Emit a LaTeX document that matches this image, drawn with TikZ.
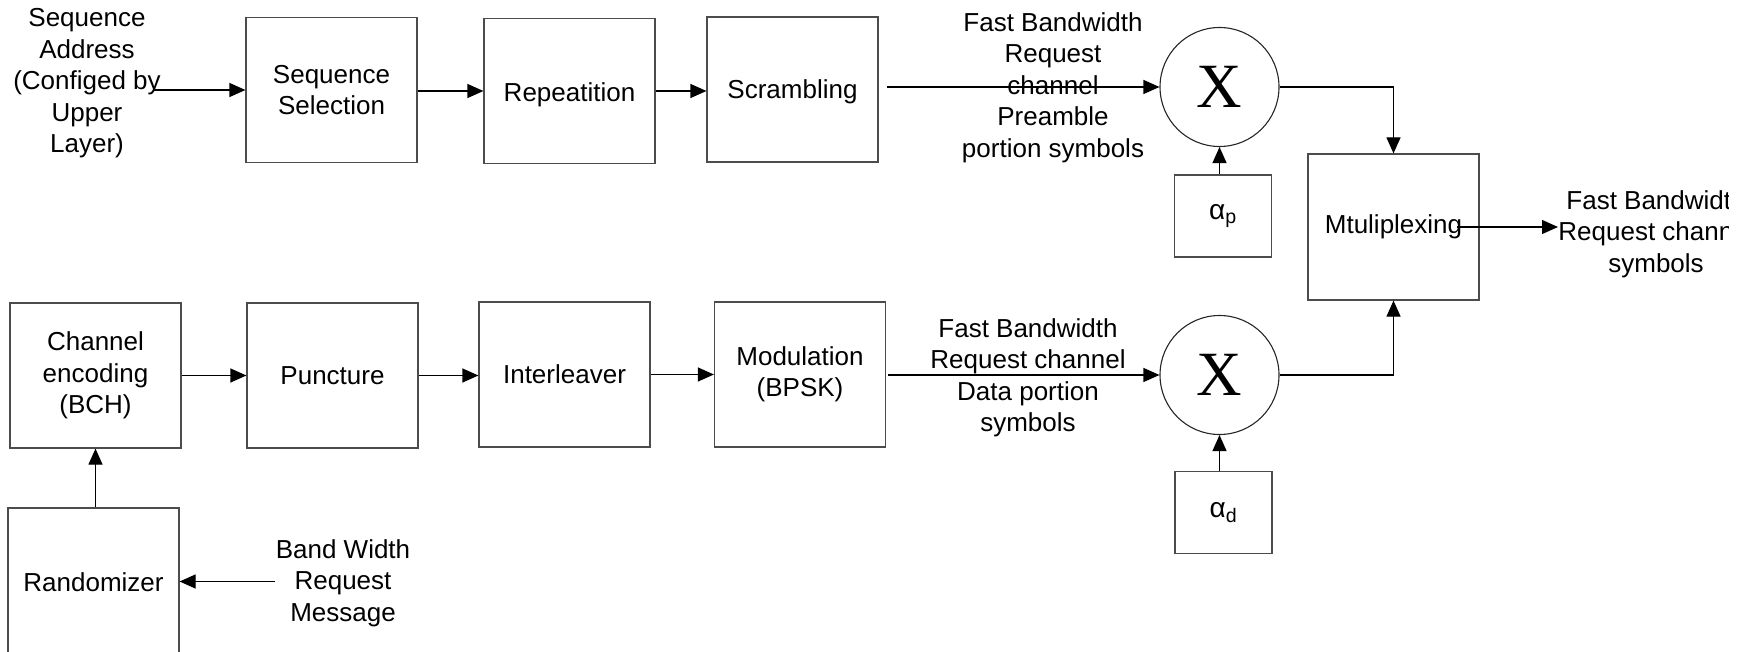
\documentclass[tikz,border=0pt]{standalone}
\usepackage{fontspec}
\setmainfont{Liberation Sans}
\newfontfamily\xfont{Liberation Serif}
\usetikzlibrary{arrows.meta}
\begin{document}
\begin{tikzpicture}[x=1pt,y=-1pt,
  every node/.style={font=\fontsize{26}{31.5}\selectfont},
  blk/.style={draw=black!70, line width=1.2pt, inner sep=0pt, align=center, minimum width=171pt, minimum height=145pt},
  smallblk/.style={blk, minimum width=97pt, minimum height=82pt},
  mult/.style={draw=black!85, line width=1.1pt, circle, minimum size=119pt, inner sep=0pt, font=\xfont\fontsize{63}{63}\selectfont},
  lbl/.style={align=center, inner sep=0pt},
  tip/.style={-{Triangle[length=16pt,width=14pt]}},
  conn/.style={line width=1.2pt, tip},
  wire/.style={line width=1.2pt}
]
\useasboundingbox (0,0) rectangle (1747,652);
\clip (0,0) rectangle (1747,652);

% top row
\node[lbl] (seqaddr) at (87,83.5) {Sequence\\Address\\(Configed by\\Upper\\Layer)};
\coordinate (sa) at (153,90);
\node[blk] (seqsel) at (331.5,90) {Sequence\\Selection};
\node[blk] (rep) at (569.5,91) {\raisebox{-3.5pt}[\height][\depth]{Repeatition}};
\node[blk] (scr) at (792.5,89.5) {\raisebox{-2.5pt}[\height][\depth]{Scrambling}};
\coordinate (s1) at (887,87);
\node[lbl] (toplbl) at (1053,87.5) {Fast Bandwidth\\Request\\channel\\Preamble\\portion symbols};
\node[mult] (c1) at (1219.5,87) {X};
\node[smallblk] (ap) at (1223,216) {\fontsize{28}{28}\selectfont α\textsubscript{p}};
\node[blk, minimum height=146pt] (mux) at (1393.5,227) {Mtuliplexing};
\coordinate (m1) at (1457,227);
\coordinate (o1) at (1558,227);
\begin{scope}
\clip (1480,150) rectangle (1728,300);
\node[lbl] (outlbl) at (1656,234) {Fast Bandwidth\\Request channel\\symbols};
\end{scope}

% bottom row
\node[blk] (chenc) at (95.5,375.5) {Channel\\encoding\\(BCH)};
\node[blk] (punc) at (332.5,375.5) {Puncture};
\node[blk] (intl) at (564.5,374.5) {Interleaver};
\node[blk] (mod) at (800,374.5) {Modulation\\(BPSK)};
\coordinate (s2) at (888,375);
\node[lbl] (botlbl) at (1028,378) {Fast Bandwidth\\Request channel\\Data portion\\symbols};
\node[mult] (c2) at (1219.5,375) {X};
\node[smallblk] (ad) at (1223.5,512.5) {\fontsize{28}{28}\selectfont α\textsubscript{d}};
\node[blk, minimum height=148pt] (rand) at (93.5,582) {Randomizer};
\node[lbl] (bwr) at (343,583) {Band Width\\Request\\Message};
\coordinate (b1) at (275,581.5);

% connectors
\draw[conn] (sa) -- (seqsel.west |- sa);
\draw[conn] (seqsel.east |- rep.west) -- (rep.west);
\draw[conn] (rep.east) -- (scr.west |- rep.east);
\draw[conn] (s1) -- (c1.west);
\draw[conn] (ap.north -| c1.south) -- (c1.south);
\draw[wire, tip] (c1.east) -| (mux.north);
\draw[wire, tip] (c2.east) -| (mux.south);
\draw[conn] (m1) -- (o1);

\draw[conn] (chenc.east) -- (punc.west |- chenc.east);
\draw[conn] (punc.east) -- (intl.west |- punc.east);
\draw[conn] (intl.east) -- (mod.west |- intl.east);
\draw[conn] (s2) -- (c2.west);
\draw[conn] (ad.north -| c2.south) -- (c2.south);
\draw[conn] (rand.north -| chenc.south) -- (chenc.south);
\draw[conn] (b1) -- (rand.east |- b1);
\end{tikzpicture}
\end{document}
